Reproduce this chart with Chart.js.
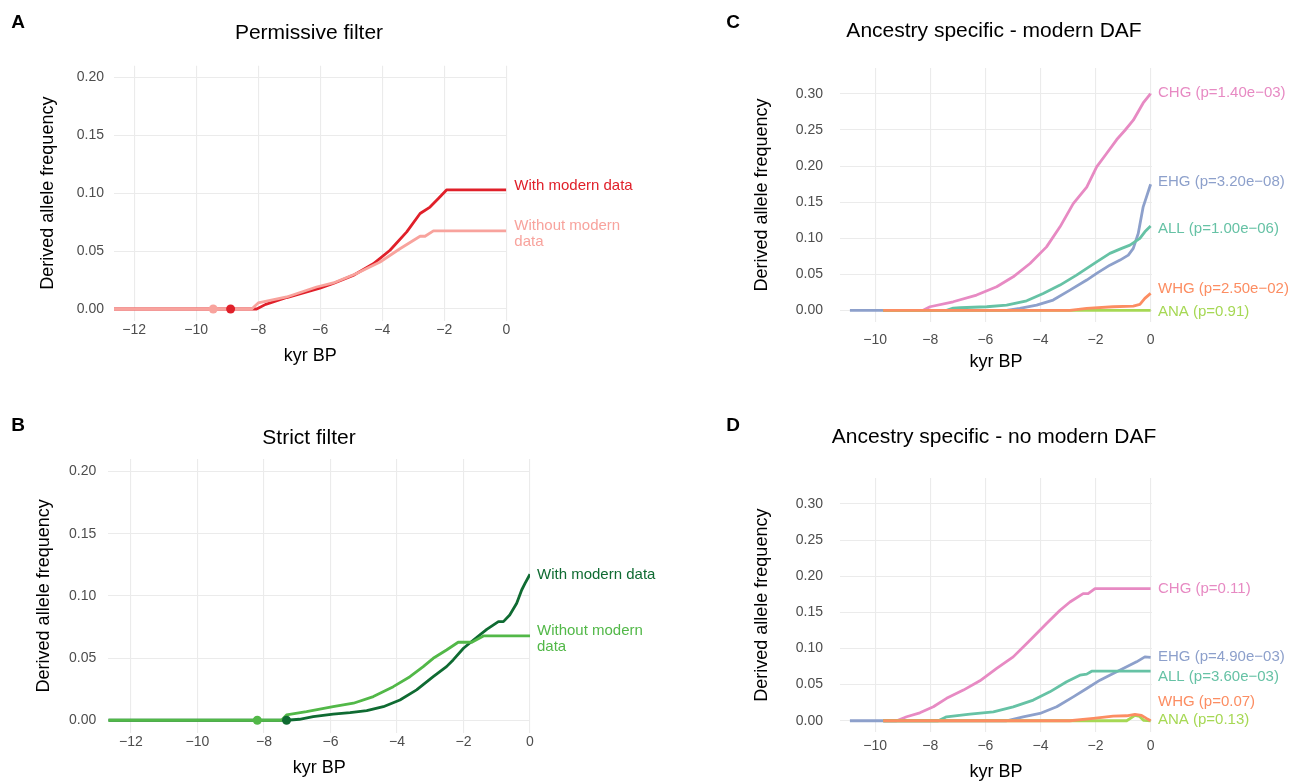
<!DOCTYPE html>
<html>
<head>
<meta charset="utf-8">
<script src="https://cdn.jsdelivr.net/npm/chart.js@4.4.1/dist/chart.umd.min.js"></script>
<style>
  body { margin: 0; background: #fff; }
  #wrap { position: relative; width: 1293px; height: 782px; }
  canvas { position: absolute; left: 0; top: 0; }
</style>
</head>
<body>
<div id="wrap">
  <canvas id="chartA" width="1293" height="782"></canvas>
  <canvas id="chartB" width="1293" height="782"></canvas>
  <canvas id="chartC" width="1293" height="782"></canvas>
  <canvas id="chartD" width="1293" height="782"></canvas>
</div>
<script>
// ---- data (kyr BP vs derived allele frequency) ----
const xTicksAB = [-12, -10, -8, -6, -4, -2, 0];
const xTicksCD = [-10, -8, -6, -4, -2, 0];
const yTicksAB = [0, 0.05, 0.10, 0.15, 0.20];
const yTicksCD = [0, 0.05, 0.10, 0.15, 0.20, 0.25, 0.30];

// A - permissive filter
const aWithX = [-12.65, -8.05, -7.76, -7.08, -6.01, -5.58, -4.94, -4.29, -3.75, -3.21, -2.78, -2.46, -2.19, -1.92, 0];
const aWithY = [0, 0, 0.004, 0.0099, 0.018, 0.022, 0.029, 0.039, 0.0507, 0.0666, 0.0824, 0.088, 0.0954, 0.1029, 0.1029];
const aWithoutX = [-12.65, -8.21, -8.0, -7.08, -6.12, -5.58, -4.83, -4.07, -3.43, -2.78, -2.62, -2.35, 0];
const aWithoutY = [0, 0, 0.0052, 0.0104, 0.019, 0.0225, 0.0306, 0.0406, 0.052, 0.0628, 0.0628, 0.0674, 0.0674];
const aStartX = [-8.89, -9.45];   // onset dots: with, without
const aLabelAt = [0.106, 0.0645];

// B - strict filter
const bWithX = [-12.68, -7.32, -6.93, -6.52, -5.92, -5.41, -4.91, -4.41, -3.91, -3.41, -2.91, -2.51, -2.31, -2.0, -1.70, -1.30, -0.95, -0.80, -0.61, -0.40, -0.25, -0.15, 0];
const bWithY = [0, 0, 0.0008, 0.003, 0.005, 0.0061, 0.0077, 0.0109, 0.0163, 0.0244, 0.035, 0.0431, 0.0485, 0.0579, 0.0645, 0.0731, 0.0793, 0.0793, 0.0846, 0.094, 0.1047, 0.11, 0.1174];
const bWithoutX = [-12.68, -7.47, -7.32, -6.72, -5.92, -5.31, -4.71, -4.11, -3.61, -3.21, -2.91, -2.51, -2.16, -1.75, -1.40, 0];
const bWithoutY = [0, 0, 0.0043, 0.0069, 0.0109, 0.0137, 0.019, 0.027, 0.035, 0.0431, 0.0498, 0.0565, 0.0627, 0.0627, 0.0678, 0.0678];
const bStartX = [-7.32, -8.2];
const bLabelAt = [0.1168, 0.0654];

// C - ancestry specific, modern DAF
const cChgX = [-9.71, -8.26, -8.01, -7.17, -6.32, -5.59, -4.99, -4.38, -3.78, -3.29, -2.81, -2.32, -1.96, -1.60, -1.23, -0.93, -0.63, -0.27, 0];
const cChgY = [0, 0, 0.005, 0.0119, 0.0212, 0.0327, 0.0465, 0.065, 0.088, 0.1158, 0.148, 0.171, 0.199, 0.2175, 0.2368, 0.2497, 0.2636, 0.2875, 0.3006];
const cEhgX = [-10.92, -5.23, -4.75, -4.14, -3.54, -2.93, -2.32, -1.96, -1.48, -1.11, -0.81, -0.63, -0.45, -0.27, -0.15, 0];
const cEhgY = [0, 0, 0.0028, 0.0073, 0.0143, 0.0281, 0.042, 0.0512, 0.0627, 0.0697, 0.0766, 0.0859, 0.1066, 0.1435, 0.1574, 0.1749];
const cAllX = [-9.71, -7.41, -7.17, -6.92, -5.95, -5.23, -4.50, -3.90, -3.29, -2.69, -1.96, -1.48, -1.05, -0.75, -0.39, -0.21, 0];
const cAllY = [0, 0, 0.003, 0.0036, 0.005, 0.0073, 0.0133, 0.0235, 0.035, 0.0489, 0.0673, 0.079, 0.0859, 0.0904, 0.0997, 0.1089, 0.1168];
const cWhgX = [-9.71, -2.93, -2.32, -1.36, -0.63, -0.39, -0.21, 0];
const cWhgY = [0, 0, 0.0028, 0.005, 0.006, 0.0083, 0.0166, 0.0235];
const cAnaX = [-9.71, 0];
const cAnaY = [0, 0];
const cLabels = ['CHG (p=1.40e\u221203)', 'EHG (p=3.20e\u221208)', 'ALL (p=1.00e\u221206)', 'WHG (p=2.50e\u221202)', 'ANA (p=0.91)'];
const cLabelAt = [0.302, 0.178, 0.1126, 0.0295, -0.0024];

// D - ancestry specific, no modern DAF
const dChgX = [-9.71, -9.22, -8.86, -8.38, -7.89, -7.41, -6.80, -6.2, -5.59, -4.99, -4.38, -3.78, -3.29, -2.93, -2.45, -2.27, -2.02, 0];
const dChgY = [0, 0, 0.0055, 0.011, 0.0193, 0.031, 0.0424, 0.0553, 0.0724, 0.0884, 0.1115, 0.1345, 0.1529, 0.1644, 0.176, 0.176, 0.1829, 0.1829];
const dEhgX = [-10.92, -5.23, -4.63, -4.02, -3.41, -2.81, -2.32, -1.84, -1.36, -0.87, -0.51, -0.21, 0];
const dEhgY = [0, 0, 0.0055, 0.0101, 0.0193, 0.0331, 0.0447, 0.0562, 0.0654, 0.0746, 0.0815, 0.0884, 0.0876];
const dAllX = [-9.71, -7.71, -7.41, -6.56, -5.71, -4.99, -4.26, -3.66, -3.05, -2.57, -2.32, -2.14, 0];
const dAllY = [0, 0, 0.0055, 0.0093, 0.0124, 0.0193, 0.0286, 0.04, 0.0539, 0.0631, 0.0645, 0.0686, 0.0686];
const dWhgX = [-9.71, -2.93, -2.08, -1.36, -0.87, -0.57, -0.33, -0.15, 0];
const dWhgY = [0, 0, 0.0033, 0.0065, 0.0069, 0.0088, 0.0075, 0.0033, 0];
const dAnaX = [-9.71, -0.87, -0.57, -0.4, -0.25, 0];
const dAnaY = [0, 0, 0.0075, 0.006, 0.0005, 0];
const dLabels = ['CHG (p=0.11)', 'EHG (p=4.90e\u221203)', 'ALL (p=3.60e\u221203)', 'WHG (p=0.07)', 'ANA (p=0.13)'];
const dLabelAt = [0.183, 0.088, 0.0604, 0.0258, 0.001];

// ---- styling ----
const FONT = "'Liberation Sans', Arial, sans-serif";
const GRID = '#EBEBEB';
const TICK = '#4D4D4D';
const RED = '#E0202A', PINK = '#F8A39D';
const DKGREEN = '#0F6B32', LTGREEN = '#52B848';
const ALL = '#66C2A5', WHG = '#FC8D62', EHG = '#8DA0CB', CHG = '#E78AC3', ANA = '#A6D854';

Chart.defaults.font.family = FONT;

const pts = (xs, ys) => xs.map((x, i) => ({x: x, y: ys[i]}));
const minus = v => v < 0 ? '\u2212' + Math.abs(v) : String(v);

function line(label, color, xs, ys) {
  return {label: label, data: pts(xs, ys), borderColor: color, backgroundColor: color,
          borderWidth: 2.8, pointRadius: 0, tension: 0, borderJoinStyle: 'round'};
}
function dot(label, color, x) {
  return {label: label, data: [{x: x, y: 0}], showLine: false, pointRadius: 4.5,
          pointBorderWidth: 0, pointBackgroundColor: color, borderColor: color};
}

// panel letter, title and end-of-line labels
const panelText = {
  id: 'panelText',
  afterDraw(chart, args, o) {
    const {ctx, chartArea} = chart;
    const y = chart.scales.y;
    ctx.save();
    ctx.textBaseline = 'middle';
    ctx.textAlign = 'center';
    ctx.fillStyle = '#000';
    ctx.font = 'bold 19px ' + FONT;
    ctx.fillText(o.letter, o.letterX, o.letterY);
    ctx.font = '21px ' + FONT;
    ctx.fillText(o.title, o.titleX, o.titleY);
    ctx.font = '15px ' + FONT;
    ctx.textAlign = 'left';
    o.labels.forEach(l => {
      const lines = l.text.split('\n');
      const yc = y.getPixelForValue(l.at);
      ctx.fillStyle = l.color;
      lines.forEach((t, k) => {
        ctx.fillText(t, chartArea.right + o.gap, yc + (k - (lines.length - 1) / 2) * 16);
      });
    });
    ctx.restore();
  }
};

function makePanel(id, p) {
  return new Chart(id, {
    type: 'line',
    data: {datasets: p.datasets},
    options: {
      responsive: false,
      animation: false,
      devicePixelRatio: 1,
      events: [],
      layout: {padding: {left: p.padLeft, right: 1293 - p.right, top: p.top, bottom: 782 - p.bottom - 48}},
      scales: {
        x: {
          type: 'linear', min: p.xMin, max: p.xMax,
          afterBuildTicks: s => { s.ticks = p.xTicks.map(v => ({value: v})); },
          afterFit: s => { s.height = 48; },
          grid: {color: GRID, lineWidth: 1.1, drawTicks: false},
          border: {display: false},
          ticks: {padding: p.xTickPad, color: TICK, font: {size: 14}, autoSkip: false, maxRotation: 0, callback: minus},
          title: {display: true, text: 'kyr BP', color: '#000', font: {size: 18}, padding: {top: 0, bottom: p.xTitlePad}}
        },
        y: {
          type: 'linear', min: p.yMin, max: p.yMax,
          afterBuildTicks: s => { s.ticks = p.yTicks.map(v => ({value: v})); },
          afterFit: s => { s.width = p.yWidth; },
          grid: {color: GRID, lineWidth: 1.1, drawTicks: false},
          border: {display: false},
          ticks: {padding: p.yTickPad, color: TICK, font: {size: 14}, callback: v => v.toFixed(2)},
          title: {display: true, text: 'Derived allele frequency', color: '#000', font: {size: 18}, padding: {top: p.yTitlePad, bottom: 0}}
        }
      },
      plugins: {
        legend: {display: false},
        tooltip: {enabled: false},
        panelText: p.text
      }
    },
    plugins: [panelText]
  });
}

makePanel('chartA', {
  datasets: [
    dot('With (onset)', RED, aStartX[0]),
    dot('Without (onset)', PINK, aStartX[1]),
    line('Without modern data', PINK, aWithoutX, aWithoutY),
    line('With modern data', RED, aWithX, aWithY)
  ],
  padLeft: 0, yWidth: 114, right: 506.3, top: 65.7, bottom: 320.6,
  xMin: -12.65, xMax: 0, yMin: -0.01, yMax: 0.21,
  xTicks: xTicksAB, yTicks: yTicksAB,
  xTickPad: 1, xTitlePad: 1.8, yTickPad: 10, yTitlePad: 37,
  text: {letter: 'A', letterX: 18, letterY: 23, title: 'Permissive filter', titleX: 309, titleY: 33.5, gap: 8,
         labels: [{text: 'With modern data', at: aLabelAt[0], color: RED},
                  {text: 'Without modern\ndata', at: aLabelAt[1], color: PINK}]}
});

makePanel('chartB', {
  datasets: [
    dot('With (onset)', DKGREEN, bStartX[0]),
    dot('Without (onset)', LTGREEN, bStartX[1]),
    line('Without modern data', LTGREEN, bWithoutX, bWithoutY),
    line('With modern data', DKGREEN, bWithX, bWithY)
  ],
  padLeft: 0, yWidth: 108.3, right: 530, top: 459, bottom: 732.7,
  xMin: -12.68, xMax: 0, yMin: -0.01, yMax: 0.21,
  xTicks: xTicksAB, yTicks: yTicksAB,
  xTickPad: 1, xTitlePad: 1.9, yTickPad: 12, yTitlePad: 33,
  text: {letter: 'B', letterX: 18, letterY: 425.5, title: 'Strict filter', titleX: 309, titleY: 438, gap: 7,
         labels: [{text: 'With modern data', at: bLabelAt[0], color: DKGREEN},
                  {text: 'Without modern\ndata', at: bLabelAt[1], color: LTGREEN}]}
});

const ancColors = [CHG, EHG, ALL, WHG, ANA];

makePanel('chartC', {
  datasets: [
    line('WHG', WHG, cWhgX, cWhgY),
    line('ANA', ANA, cAnaX, cAnaY),
    line('ALL', ALL, cAllX, cAllY),
    line('EHG', EHG, cEhgX, cEhgY),
    line('CHG', CHG, cChgX, cChgY)
  ],
  padLeft: 650, yWidth: 190, right: 1152, top: 68, bottom: 321.9,
  xMin: -11.28, xMax: 0.05, yMin: -0.016, yMax: 0.336,
  xTicks: xTicksCD, yTicks: yTicksCD,
  xTickPad: 9.6, xTitlePad: -2.9, yTickPad: 17, yTitlePad: 101,
  text: {letter: 'C', letterX: 733, letterY: 22.5, title: 'Ancestry specific - modern DAF', titleX: 994, titleY: 31, gap: 6,
         labels: cLabels.map((t, i) => ({text: t, at: cLabelAt[i], color: ancColors[i]}))}
});

makePanel('chartD', {
  datasets: [
    line('WHG', WHG, dWhgX, dWhgY),
    line('ANA', ANA, dAnaX, dAnaY),
    line('ALL', ALL, dAllX, dAllY),
    line('EHG', EHG, dEhgX, dEhgY),
    line('CHG', CHG, dChgX, dChgY)
  ],
  padLeft: 650, yWidth: 190, right: 1152, top: 478, bottom: 732.3,
  xMin: -11.28, xMax: 0.05, yMin: -0.016, yMax: 0.336,
  xTicks: xTicksCD, yTicks: yTicksCD,
  xTickPad: 5.6, xTitlePad: -2.2, yTickPad: 17, yTitlePad: 101,
  text: {letter: 'D', letterX: 733, letterY: 425.5, title: 'Ancestry specific - no modern DAF', titleX: 994, titleY: 437, gap: 6,
         labels: dLabels.map((t, i) => ({text: t, at: dLabelAt[i], color: ancColors[i]}))}
});
</script>
</body>
</html>
